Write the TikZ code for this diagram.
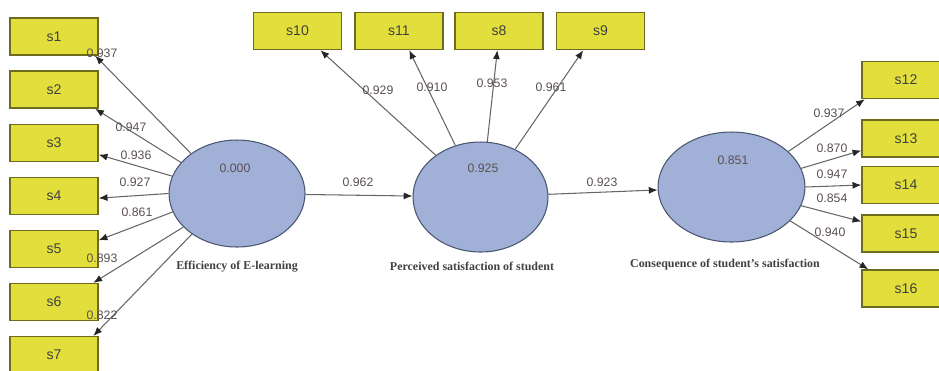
\documentclass[tikz,border=0pt]{standalone}
\usepackage{fontspec}
\setmainfont{Liberation Serif}
\setsansfont{Liberation Sans}
\usetikzlibrary{shapes.geometric,arrows.meta}

\definecolor{boxyellow}{HTML}{E2DF3C}
\definecolor{boxline}{HTML}{6E6A1E}
\definecolor{ellblue}{HTML}{A0B0D6}
\definecolor{ellline}{HTML}{4A5570}
\definecolor{linkgray}{HTML}{666666}
\definecolor{coefgray}{HTML}{5C5050}

\begin{document}
\begin{tikzpicture}[x=0.02cm,y=-0.02cm]

		\tikzstyle{indicator} = [rectangle, draw=boxline, fill=boxyellow, line width=0.8pt, minimum width=1.76cm, minimum height=0.74cm, inner sep=0pt, font=\sffamily\fontsize{8}{8}\selectfont, text=black!75]
		
		\tikzstyle{construct} = [ellipse, draw=ellline, fill=ellblue, line width=0.6pt, inner sep=0pt]
		
		\tikzstyle{links} = [-{Latex[length=5pt,width=4pt,color=black!85]}, draw=linkgray, line width=0.6pt]
		
		\tikzstyle{coef} = [inner sep=0.5pt, font=\sffamily\fontsize{7}{7}\selectfont, text=coefgray]
		
		\tikzstyle{caption} = [inner sep=0.5pt, font=\bfseries\fontsize{6.8}{7}\selectfont, text=black!75]
		
		\useasboundingbox (0,0) rectangle (939,370);
		
		% indicators
		\foreach \i in {1,...,7}
			\node[indicator] at (54, {36.5+53.1*(\i-1)}) (s\i) {s\i};
		\foreach \n/\x in {10/297.5, 11/399, 8/499, 9/600.5}
			\node[indicator] at (\x, 31) (s\n) {s\n};
		\foreach \n/\y in {12/80, 13/138.5, 14/185, 15/233.5, 16/288.5}
			\node[indicator] at (906, \y) (s\n) {s\n};
		
		% constructs
		\node[construct, minimum width=2.72cm, minimum height=2.14cm] at (237, 193.5) (efficiency) {};
		\node[construct, minimum width=2.7cm, minimum height=2.2cm] at (480.5, 197) (perceived) {};
		\node[construct, minimum width=2.94cm, minimum height=2.2cm] at (731.5, 187) (consequence) {};
		
		\node[coef] at (235, 168) (r2efficiency) {0.000};
		\node[coef] at (483, 168) (r2perceived) {0.925};
		\node[coef] at (733, 160) (r2consequence) {0.851};
		
		\node[caption] at (237, 267) (nameefficiency) {Efficiency of E-learning};
		\node[caption] at (472, 266) (nameperceived) {Perceived satisfaction of student};
		\node[caption] at (725, 265) (nameconsequence) {Consequence of student's satisfaction};
		
		% loadings
		\foreach \i/\a/\t in {1/139/-25, 2/151/-25, 3/165/-15, 4/180/-3, 5/196/11, 6/212/26, 7/222/26}
			\draw[links] (efficiency.\a) -- (s\i.\t);
		\foreach \n/\a/\t in {10/137/-40, 11/116/-62, 8/83/-95, 9/54/-132}
			\draw[links] (perceived.\a) -- (s\n.\t);
		\foreach \n/\a/\t in {12/32/-155, 13/15/-165, 14/0/180, 15/-15/165, 16/-30/153}
			\draw[links] (consequence.\a) -- (s\n.\t);
		
		\draw[links] (efficiency) -- (perceived);
		\draw[links] (perceived) -- (consequence);
		
		% coefficients
		\node[coef] at (102, 53) (c1) {0.937};
		\node[coef] at (131, 127) (c2) {0.947};
		\node[coef] at (136, 155) (c3) {0.936};
		\node[coef] at (135, 182) (c4) {0.927};
		\node[coef] at (137, 212) (c5) {0.861};
		\node[coef] at (102, 258) (c6) {0.893};
		\node[coef] at (102, 315) (c7) {0.822};
		
		\node[coef] at (378, 90) (c10) {0.929};
		\node[coef] at (432, 87) (c11) {0.910};
		\node[coef] at (492, 83) (c8) {0.953};
		\node[coef] at (551, 87) (c9) {0.961};
		
		\node[coef] at (829, 113) (c12) {0.937};
		\node[coef] at (832, 148) (c13) {0.870};
		\node[coef] at (832, 174) (c14) {0.947};
		\node[coef] at (832, 198) (c15) {0.854};
		\node[coef] at (830, 232) (c16) {0.940};
		
		\node[coef] at (358, 182) (cpath1) {0.962};
		\node[coef] at (602, 182) (cpath2) {0.923};
	\end{tikzpicture}
\end{document}
